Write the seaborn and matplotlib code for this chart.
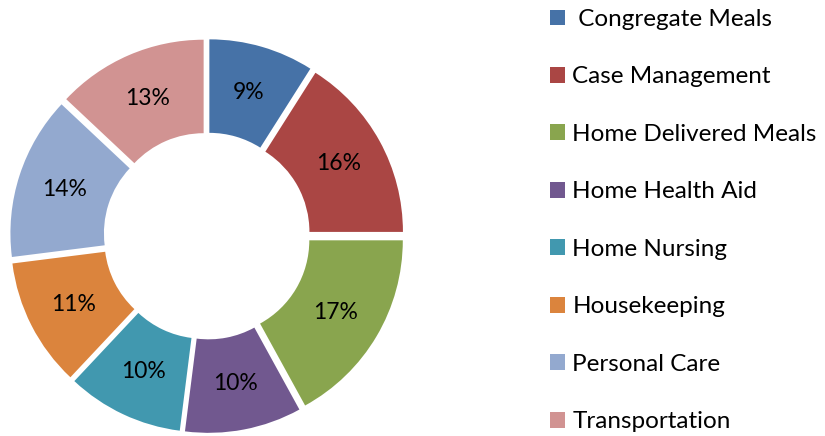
import matplotlib
matplotlib.use("Agg")
import matplotlib.pyplot as plt
import seaborn as sns

services = [' Congregate Meals', 'Case Management', 'Home Delivered Meals', 'Home Health Aid',
            'Home Nursing', 'Housekeeping', 'Personal Care', 'Transportation']
shares = [9, 16, 17, 10, 10, 11, 14, 13]
colors = ['#4672A7', '#AA4644', '#89A54E', '#71588F', '#4198AF', '#DB843D', '#93A9CF', '#D19392']

sns.set_theme(style='white')
plt.rcParams['font.family'] = ['Lato', 'DejaVu Sans']
plt.rcParams['text.color'] = 'black'

fig = plt.figure(figsize=(8.25, 4.36), dpi=100)
ax = fig.add_axes([0, 0, 1, 1])
palette = sns.color_palette(colors)

# pixel scale of one radius unit and centre of the ring
unit = 188.5
cx, cy = 207.0, 200.0

wedges, texts, autotexts = ax.pie(
    shares, colors=palette, startangle=90, counterclock=False,
    explode=[0.045] * len(shares), autopct='%.0f%%', pctdistance=0.75,
    wedgeprops=dict(width=0.496, edgecolor='none'),
    textprops=dict(fontsize=16.5, color='black'))
ax.set_aspect('equal')
ax.set_xlim(-cx / unit, (825 - cx) / unit)
ax.set_ylim(-cy / unit, (436 - cy) / unit)
ax.axis('off')

fig.legend(wedges, services, loc='upper left', bbox_to_anchor=(550 / 825, 1 - 9 / 436),
           frameon=False, fontsize=17.5, handlelength=0.62, handleheight=0.62,
           handletextpad=0.3, labelspacing=1.5, borderaxespad=0, borderpad=0,
           labelcolor='black')

fig.savefig('out.png', dpi=100)
